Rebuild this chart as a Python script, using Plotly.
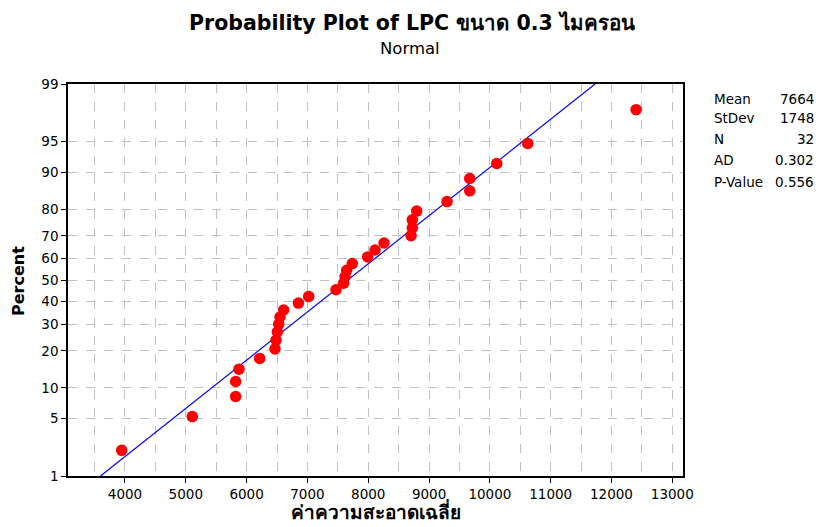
import plotly.graph_objects as go
from statistics import NormalDist

# ---- data ----
values = [3946, 5107, 5820, 5820, 5875, 6215, 6467, 6484, 6505, 6528, 6549, 6610,
          6852, 7021, 7470, 7597, 7618, 7646, 7738, 7991, 8112, 8260, 8704, 8725,
          8725, 8797, 9296, 9669, 9669, 10113, 10623, 12405]
mean_val = 7664
stdev_val = 1748
stat_names = ["Mean", "StDev", "N", "AD", "P-Value"]
stat_values = ["7664", "1748", "32", "0.302", "0.556"]
percent_ticks = [1, 5, 10, 20, 30, 40, 50, 60, 70, 80, 90, 95, 99]
x_ticks = [4000, 5000, 6000, 7000, 8000, 9000, 10000, 11000, 12000, 13000]

nd = NormalDist()
n = len(values)
xs = sorted(values)
probs = [(i - 0.3) / (n + 0.4) for i in range(1, n + 1)]   # median ranks
zs = [nd.inv_cdf(p) for p in probs]

z_lo, z_hi = nd.inv_cdf(0.01), nd.inv_cdf(0.99)
line_z = [z_lo, z_hi]
line_x = [mean_val + stdev_val * z for z in line_z]

FONT = "DejaVu Sans, Noto Sans, sans-serif"

fig = go.Figure()
fig.add_trace(go.Scatter(x=line_x, y=line_z, mode="lines",
                         line=dict(color="#0000FF", width=1.2),
                         showlegend=False, hoverinfo="skip"))
fig.add_trace(go.Scatter(x=xs, y=zs, mode="markers",
                         marker=dict(color="#FF0000", size=11.5),
                         showlegend=False))

# plot area in pixels
L, R, T, B = 68, 683, 84, 476
W, H = 819, 527
def px(x):
    return (x - L) / (R - L)
def py(y):
    return (B - y) / (B - T)

ann = []
ann.append(dict(text="<b>Probability Plot of LPC ขนาด 0.3 ไมครอน</b>", x=px(412), y=py(23),
                xref="paper", yref="paper", showarrow=False, xanchor="center", yanchor="middle",
                font=dict(size=20.5, color="black", family=FONT)))
ann.append(dict(text="Normal", x=px(410), y=py(48),
                xref="paper", yref="paper", showarrow=False, xanchor="center", yanchor="middle",
                font=dict(size=16.5, color="black", family=FONT)))
ann.append(dict(text="<b>Percent</b>", x=px(18), y=py(281), textangle=-90,
                xref="paper", yref="paper", showarrow=False, xanchor="center", yanchor="middle",
                font=dict(size=16, color="black", family=FONT)))
ann.append(dict(text="<b>ค่าความสะอาดเฉลี่ย</b>", x=px(376), y=py(511),
                xref="paper", yref="paper", showarrow=False, xanchor="center", yanchor="middle",
                font=dict(size=19, color="black", family=FONT)))
stat_y = [99, 118.5, 139, 160, 181.5]
for nm, vv, yy in zip(stat_names, stat_values, stat_y):
    ann.append(dict(text=nm, x=px(712), y=py(yy), xref="paper", yref="paper",
                    showarrow=False, xanchor="left", yanchor="middle",
                    font=dict(size=13.5, color="black", family=FONT)))
    ann.append(dict(text=vv, x=px(816), y=py(yy), xref="paper", yref="paper",
                    showarrow=False, xanchor="right", yanchor="middle",
                    font=dict(size=13.5, color="black", family=FONT)))

fig.update_layout(
    width=W, height=H,
    margin=dict(l=L, r=W - R, t=T, b=H - B),
    plot_bgcolor="white", paper_bgcolor="white",
    font=dict(family=FONT, size=13, color="black"),
    annotations=ann,
    xaxis=dict(range=[3063, 13176], tickvals=x_ticks, ticktext=[str(v) for v in x_ticks],
               showgrid=True, gridcolor="#C0C0C0", griddash="dash", gridwidth=1,
               minor=dict(dtick=500, tick0=0, showgrid=True, gridcolor="#C0C0C0",
                          griddash="dash", gridwidth=1),
               ticks="outside", ticklen=5, tickcolor="black",
               showline=True, linecolor="black", linewidth=1.5, mirror=True,
               zeroline=False, tickfont=dict(size=13.5)),
    yaxis=dict(range=[z_lo, z_hi], tickvals=[nd.inv_cdf(p / 100) for p in percent_ticks],
               ticktext=[str(p) for p in percent_ticks],
               showgrid=True, gridcolor="#C0C0C0", griddash="dash", gridwidth=1,
               ticks="outside", ticklen=5, tickcolor="black",
               showline=True, linecolor="black", linewidth=1.5, mirror=True,
               zeroline=False, tickfont=dict(size=13.5)),
)
fig.write_html("out.html")
